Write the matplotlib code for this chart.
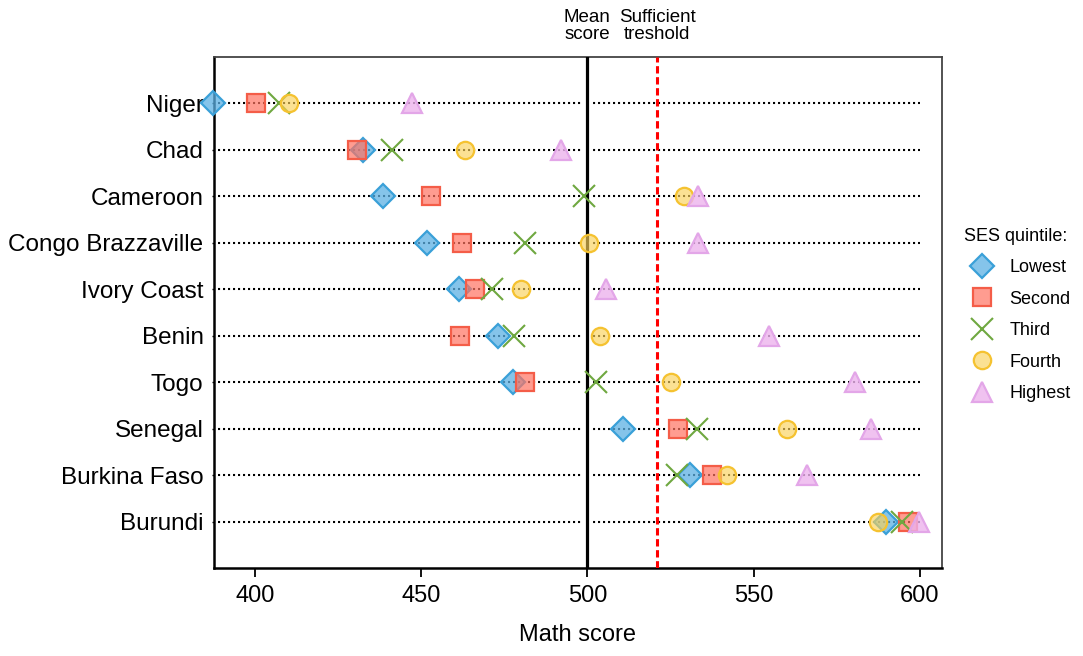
import matplotlib
matplotlib.use('Agg')
import matplotlib.pyplot as plt
from matplotlib.lines import Line2D
import matplotlib.transforms as mtransforms

plt.rcParams['font.family'] = ['Liberation Sans', 'DejaVu Sans']

countries = ['Niger', 'Chad', 'Cameroon', 'Congo Brazzaville', 'Ivory Coast',
             'Benin', 'Togo', 'Senegal', 'Burkina Faso', 'Burundi']

# math score per SES quintile
lowest = [387.4, 432.6, 438.6, 451.9, 461.3, 473.0, 477.7, 510.8, 531.0, 589.8]
second = [400.3, 430.6, 452.9, 462.2, 466.3, 461.7, 481.2, 527.4, 537.5, 596.5]
third = [407.3, 441.3, 498.9, 481.2, 471.2, 478.0, 502.5, 533.0, 527.1, 594.5]
fourth = [410.3, 463.2, 529.0, 500.5, 480.0, 503.8, 525.3, 560.0, 541.9, 587.5]
highest = [447.4, 492.0, 533.3, 533.3, 505.6, 554.5, 580.4, 585.4, 566.0, 599.8]

mean_score = 500
threshold = 521

quintiles = ['Lowest', 'Second', 'Third', 'Fourth', 'Highest']
series = [lowest, second, third, fourth, highest]

styles = {
    'Lowest':  dict(marker='D', ms=12, mfc=(0.36, 0.69, 0.89, 0.75), mec='#3aa0d8', mew=1.6),
    'Second':  dict(marker='s', ms=12.5, mfc=(1.0, 0.45, 0.38, 0.7), mec='#f45d48', mew=1.6),
    'Third':   dict(marker='x', ms=16, mfc='none', mec='#6fa840', mew=1.5),
    'Fourth':  dict(marker='o', ms=12.5, mfc=(0.98, 0.82, 0.35, 0.65), mec='#f5c230', mew=1.6),
    'Highest': dict(marker='^', ms=14, mfc=(0.93, 0.70, 0.93, 0.8), mec='#e3a6e8', mew=1.6),
}

ypos = list(range(len(countries), 0, -1))

fig = plt.figure(figsize=(10.83, 6.56), dpi=100)
ax = fig.add_axes([0.1976, 0.1341, 0.672, 0.779])

allvals = [v for s in series for v in s]
lo = min(allvals)
for y in ypos:
    ax.plot([lo + 1.5, 600], [y, y], color='black', lw=1.5,
            linestyle=(0, (1, 1.4)), zorder=1)

ax.axvline(mean_score, color='white', lw=8, zorder=2)
ax.axvline(mean_score, color='black', lw=2.3, zorder=3)
ax.axvline(threshold, color='red', lw=2.2, linestyle=(0, (2.4, 1.2)), zorder=3)

for name, vals in zip(quintiles, series):
    st = styles[name]
    ax.plot(vals, ypos, linestyle='none', zorder=4, label=name, clip_on=False, **st)

ax.set_xlim(387.7, 606.6)
ax.set_ylim(0, 11)
ax.set_xticks([400, 450, 500, 550, 600])
ax.set_yticks(ypos)
ax.set_yticklabels(countries)
ax.tick_params(axis='x', length=6.5, width=1.3, labelsize=17, pad=6)
ax.tick_params(axis='y', length=1.5, width=1, labelsize=17.5, pad=6)
ax.set_xlabel('Math score', fontsize=17, labelpad=12)

for side in ['left', 'bottom']:
    ax.spines[side].set_linewidth(1.8)
    ax.spines[side].set_color('black')
for side in ['top', 'right']:
    ax.spines[side].set_linewidth(1.3)
    ax.spines[side].set_color('#444444')

trans = mtransforms.blended_transform_factory(ax.transData, ax.transAxes)
ax.text(mean_score, 1.028, 'Mean\nscore', transform=trans, ha='center', va='bottom',
        fontsize=13.5, linespacing=1.0)
ax.text(threshold, 1.028, 'Sufficient\ntreshold', transform=trans, ha='center', va='bottom',
        fontsize=13.5, linespacing=1.0)

handles = [Line2D([], [], linestyle='none', **styles[q]) for q in quintiles]
leg = ax.legend(handles, quintiles, loc='upper left', bbox_to_anchor=(1.02, 0.68),
                frameon=False, title='SES quintile:', fontsize=13, title_fontsize=13,
                labelspacing=0.8, handletextpad=0.55, borderaxespad=0)
leg._legend_box.align = 'left'

fig.savefig('out.png', dpi=100)
